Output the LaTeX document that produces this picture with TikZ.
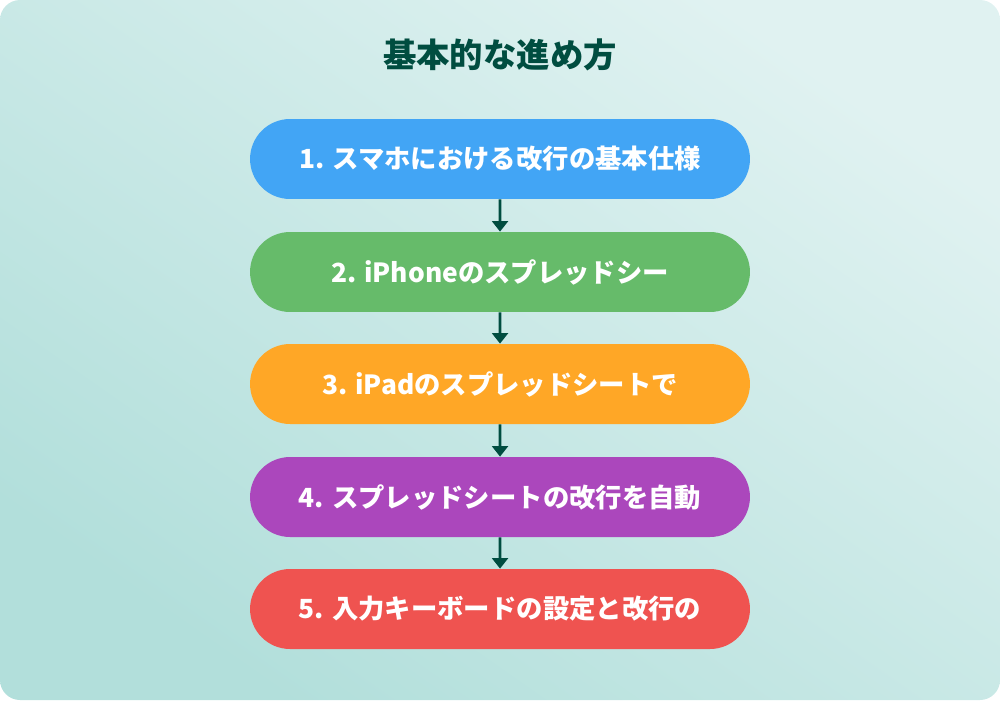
\documentclass[tikz,border=0pt]{standalone}
\usepackage{fontspec}
\newfontfamily\cjk{Noto Sans CJK JP}
\usetikzlibrary{positioning, arrows.meta, shapes.misc}
\definecolor{bgA}{HTML}{E0F2F1}
\definecolor{bgB}{HTML}{B2DFDB}
\definecolor{ttl}{HTML}{004D40}
\definecolor{cblue}{HTML}{42A5F5}
\definecolor{cgreen}{HTML}{66BB6A}
\definecolor{corange}{HTML}{FFA726}
\definecolor{cpurple}{HTML}{AB47BC}
\definecolor{cred}{HTML}{EF5350}
\tikzset{
    stepbox/.style={rounded rectangle, minimum width=10cm, minimum height=1.6cm,
        text=white, font=\cjk\bfseries\fontsize{15}{18}\selectfont, inner sep=0pt},
    link/.style={draw=ttl, line width=1.6pt, -{Triangle[length=6pt, width=9pt]}}
}
\begin{document}
\begin{tikzpicture}[x=0.02cm, y=-0.02cm]
	\useasboundingbox (0, 0) rectangle (1000, 700);
	\shade[left color=bgA, right color=bgB, shading angle=-35, rounded corners=0.4cm] (0, 0) rectangle (1000, 700);
	
	\node[text=ttl, font=\cjk\bfseries\fontsize{19}{22}\selectfont] (title) at (500, 55) {基本的な進め方};
	
	\node[stepbox, fill=cblue] (s1) at (500, 159) {1. スマホにおける改行の基本仕様};
	\node[stepbox, fill=cgreen] (s2) at (500, 272) {2. iPhoneのスプレッドシー};
	\node[stepbox, fill=corange] (s3) at (500, 384) {3. iPadのスプレッドシートで};
	\node[stepbox, fill=cpurple] (s4) at (500, 497) {4. スプレッドシートの改行を自動};
	\node[stepbox, fill=cred] (s5) at (500, 609) {5. 入力キーボードの設定と改行の};
	
	\foreach \a/\b in {s1/s2, s2/s3, s3/s4, s4/s5}{
		\draw[link] (\a) -- (\b);
	}
\end{tikzpicture}
\end{document}
